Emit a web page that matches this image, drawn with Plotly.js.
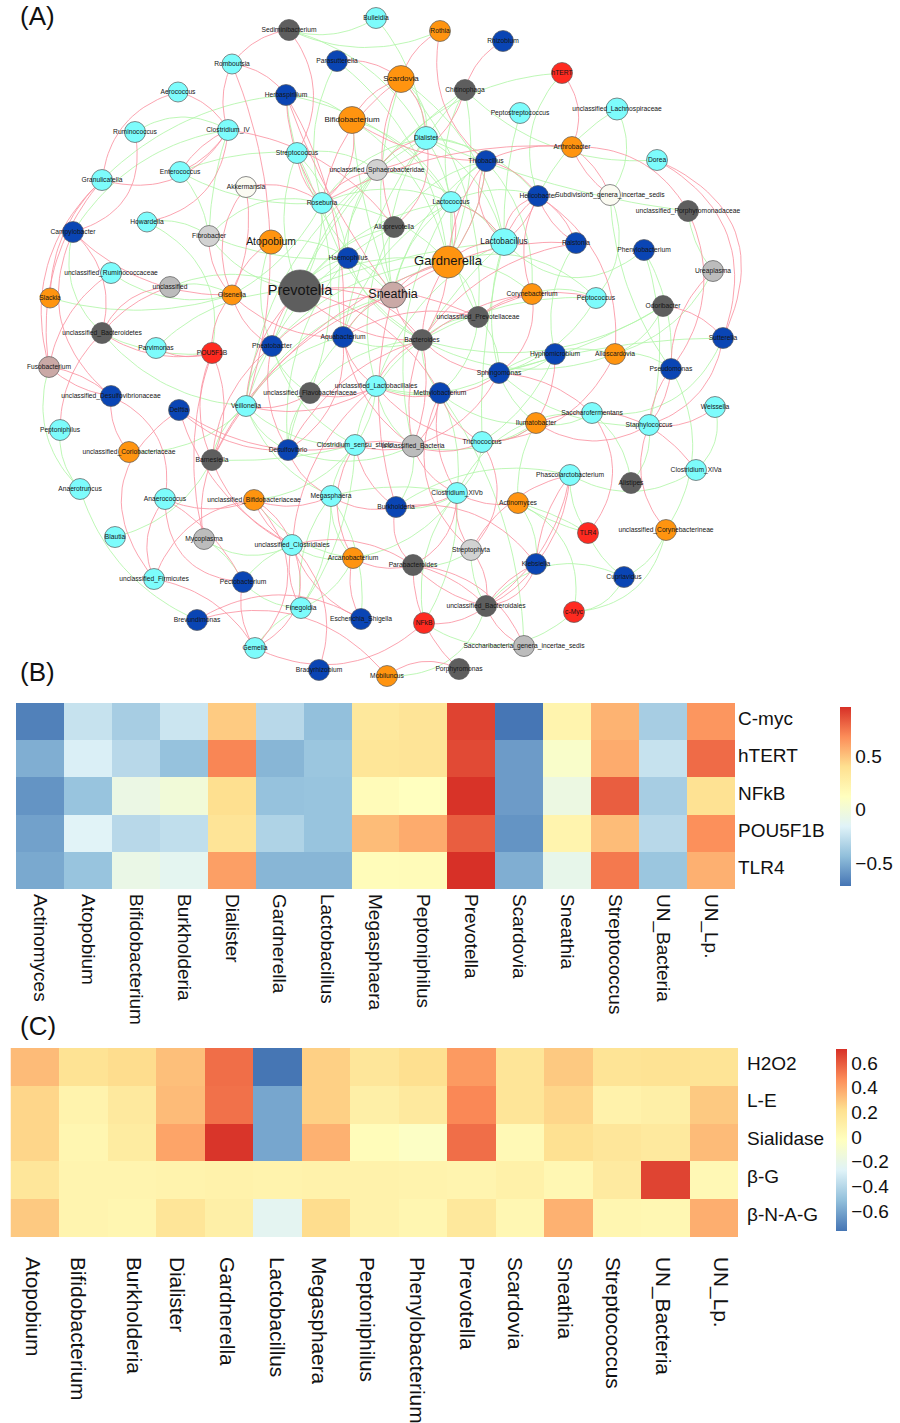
<!DOCTYPE html>
<html><head><meta charset="utf-8">
<script src="https://cdn.plot.ly/plotly-3.0.1.min.js"></script>
<style>html,body{margin:0;padding:0;background:#fff}#g{width:900px;height:1423px}</style>
</head><body><div id="g"></div>
<script>
// ---------- Panel A: network ----------
const nodeNames=["Sediminibacterium","Bulleidia","Parasutterella","Romboutsia","Aerococcus","Herbaspirillum","Ruminococcus","Clostridium_IV","Bifidobacterium","Streptococcus","Enterococcus","Granulicatella","unclassified_Sphaerobacteridae","Akkermansia","Roseburia","Howardella","Campylobacter","Fibrobacter","Atopobium","Alloprevotella","Haemophilus","unclassified_Ruminococcaceae","unclassified","Slackia","Olsenella","Prevotella","Sneathia","unclassified_Bacteroidetes","Parvimonas","POU5F1B","Pheatobacter","Aquabacterium",
"Rothia","Rhizobium","hTERT","Scardovia","Chitinophaga","Peptostreptococcus","unclassified_Lachnospiraceae","Dialister","Arthrobacter","Dorea","Thiobacillus","Helicobacter","Subdivision5_genera_incertae_sedis","unclassified_Porphyromonadaceae","Lactococcus","Lactobacillus","Ralstonia","Phenylobacterium","Gardnerella","Ureaplasma","Corynebacterium","Peptococcus","Odoribacter","unclassified_Prevotellaceae","Bacteroides","Sutterella",
"Hyphomicrobium","Alloscardovia","Sphingomonas","Pseudomonas","Methylobacterium","unclassified_Lactobacillales","Saccharofermentans","Weissella","Staphylococcus","Ilumatobacter","Trichococcus","unclassified_Bacteria","Clostridium_XlVa","Alistipes","Phascolarctobacterium","Clostridium_XlVb","Actinomyces","Burkholderia","unclassified_Corynebacterineae","TLR4","Streptophyta","Parabacteroides","Klebsiella","Cupriavidus","unclassified_Bacteroidales","c-Myc","NFkB","Saccharibacteria_genera_incertae_sedis","Porphyromonas","Mobiluncus",
"Fusobacterium","unclassified_Desulfovibrionaceae","Delftia","Veillonella","unclassified_Flavobacteriaceae","Peptoniphilus","unclassified_Coriobacteriaceae","Barnesiella","Desulfovibrio","Clostridium_sensu_stricto","Anaerotruncus","Anaerococcus","unclassified_Bifidobacteriaceae","Megasphaera","Blautia","Mycoplasma","unclassified_Clostridiales","Arcanobacterium","unclassified_Firmicutes","Pectobacterium","Finegoldia","Escherichia_Shigella","Brevundimonas","Gemella","Bradyrhizobium"];
const nodeX=[289,376,337,232,178,286,135,228,352,297,180,102,377,246,322,147,73,209,271,394,348,111,170,50,232,300,393,102,156,212,272,343,
440,503,562,401,465,520,617,426,572,657,486,538,610,688,451,504,576,644,448,713,532,596,663,478,422,723,
555,615,499,671,440,376,592,715,649,536,482,413,696,631,570,457,518,396,666,588,471,413,536,624,486,574,424,524,459,387,
49,111,179,246,310,60,129,212,288,355,80,165,254,331,115,204,292,353,154,243,301,361,197,255,319];
const nodeY=[30,18,61,64,92,95,132,130,120,153,172,180,170,187,203,222,232,236,242,227,258,273,287,298,295,291,295,333,348,353,346,337,
31,41,73,79,90,113,109,138,147,160,161,196,195,211,202,242,243,250,262,271,294,298,306,317,340,338,
354,354,373,369,393,386,413,407,425,423,442,446,470,483,475,493,503,507,530,533,550,565,564,577,606,612,623,646,669,676,
367,396,410,406,393,430,452,460,450,445,489,499,500,496,537,539,545,558,579,582,608,619,620,648,670];
const nodeRadius=[10.5,10.5,10.5,10,10,10.5,10.5,10.5,13.5,10.5,10.5,10.5,10.5,10.5,10.5,10,10.5,10.5,12,10.5,10.5,10.5,10.5,10,10,21,13,10.5,10.5,10.5,10.5,10.5,
10.5,10.5,10.5,13.5,10.5,10.5,11,11.5,10.5,10.5,10.5,10.5,10.5,10.5,10.5,13.5,10.5,10.5,16,10.5,10.5,10.5,10.5,10.5,10.5,10.5,
10.5,10.5,10.5,10.5,10.5,10.5,10.5,10.5,10.5,10.5,10.5,11,10.5,10.5,10.5,10.5,10.5,10.5,10.5,10.5,10.5,10.5,10.5,10.5,10.5,10.5,10.5,10.5,10.5,10.5,
10.5,10.5,10.5,10.5,10.5,10.5,10.5,10.5,10.5,10.5,10.5,10.5,10.5,10.5,10.5,10.5,10.5,10.5,10.5,10.5,10.5,10.5,10.5,10.5,10.5];
// D dark grey, B blue, C cyan, O orange, R red, G grey, L light grey, W white, S rose
const groupOf={Sediminibacterium:'D',Bulleidia:'C',Parasutterella:'B',Romboutsia:'C',Aerococcus:'C',Herbaspirillum:'B',Ruminococcus:'C',Clostridium_IV:'C',Bifidobacterium:'O',Streptococcus:'C',Enterococcus:'C',Granulicatella:'C',unclassified_Sphaerobacteridae:'L',Akkermansia:'W',Roseburia:'C',Howardella:'C',Campylobacter:'B',Fibrobacter:'L',Atopobium:'O',Alloprevotella:'D',Haemophilus:'B',unclassified_Ruminococcaceae:'C',unclassified:'G',Slackia:'O',Olsenella:'O',Prevotella:'D',Sneathia:'S',unclassified_Bacteroidetes:'D',Parvimonas:'C',POU5F1B:'R',Pheatobacter:'B',Aquabacterium:'B',Rothia:'O',Rhizobium:'B',hTERT:'R',Scardovia:'O',Chitinophaga:'D',Peptostreptococcus:'C',unclassified_Lachnospiraceae:'C',Dialister:'C',Arthrobacter:'O',Dorea:'C',Thiobacillus:'B',Helicobacter:'B',Subdivision5_genera_incertae_sedis:'W',unclassified_Porphyromonadaceae:'D',Lactococcus:'C',Lactobacillus:'C',Ralstonia:'B',Phenylobacterium:'B',Gardnerella:'O',Ureaplasma:'G',Corynebacterium:'O',Peptococcus:'C',Odoribacter:'D',unclassified_Prevotellaceae:'D',Bacteroides:'D',Sutterella:'B',Hyphomicrobium:'B',Alloscardovia:'O',Sphingomonas:'B',Pseudomonas:'B',Methylobacterium:'B',unclassified_Lactobacillales:'C',Saccharofermentans:'C',Weissella:'C',Staphylococcus:'C',Ilumatobacter:'O',Trichococcus:'C',unclassified_Bacteria:'G',Clostridium_XlVa:'C',Alistipes:'D',Phascolarctobacterium:'C',Clostridium_XlVb:'C',Actinomyces:'O',Burkholderia:'B',unclassified_Corynebacterineae:'O',TLR4:'R',Streptophyta:'L',Parabacteroides:'D',Klebsiella:'B',Cupriavidus:'B',unclassified_Bacteroidales:'D','c-Myc':'R',NFkB:'R',Saccharibacteria_genera_incertae_sedis:'G',Porphyromonas:'D',Mobiluncus:'O',Fusobacterium:'S',unclassified_Desulfovibrionaceae:'B',Delftia:'B',Veillonella:'C',unclassified_Flavobacteriaceae:'D',Peptoniphilus:'C',unclassified_Coriobacteriaceae:'O',Barnesiella:'D',Desulfovibrio:'B',Clostridium_sensu_stricto:'C',Anaerotruncus:'C',Anaerococcus:'C',unclassified_Bifidobacteriaceae:'O',Megasphaera:'C',Blautia:'C',Mycoplasma:'G',unclassified_Clostridiales:'C',Arcanobacterium:'O',unclassified_Firmicutes:'C',Pectobacterium:'B',Finegoldia:'C',Escherichia_Shigella:'B',Brevundimonas:'B',Gemella:'C',Bradyrhizobium:'B'};
const groupColors={D:'#5e5e5e',B:'#0a45b4',C:'#7dfcfc',O:'#ff9410',R:'#ff2a20',G:'#bcbcbc',L:'#d2d2d2',W:'#fbfbf2',S:'#caa9a6'};
const bigLabels={Prevotella:14.5,Gardnerella:13,Sneathia:12.5,Lactobacillus:8.2,Atopobium:10.4,Bifidobacterium:8,Scardovia:8};

// "a>b" or "a>b>bend"; positive bend bows away from the network's centre
const redEdges=["Sediminibacterium>Romboutsia","Sediminibacterium>Streptococcus>-.22","Romboutsia>Herbaspirillum","Romboutsia>Clostridium_IV","Romboutsia>Veillonella>-.12","Aerococcus>Granulicatella>.22","Aerococcus>Clostridium_IV","Ruminococcus>Campylobacter>-.3","Clostridium_IV>Enterococcus>.1","Clostridium_IV>Enterococcus>-.1","Granulicatella>Clostridium_IV>-.25","Clostridium_IV>Howardella>-.25","Clostridium_IV>Alloprevotella","Parasutterella>Scardovia","Herbaspirillum>Roseburia>.1","Herbaspirillum>Sneathia>.05","Herbaspirillum>Aquabacterium>-.1","Bifidobacterium>Roseburia>-.2","Bifidobacterium>Scardovia","Bifidobacterium>Thiobacillus>-.1","Streptococcus>Roseburia","unclassified_Sphaerobacteridae>Roseburia","Akkermansia>Roseburia>.15","Akkermansia>Olsenella>.2","Akkermansia>Olsenella>-.1","Fibrobacter>Olsenella","Campylobacter>Olsenella","Olsenella>Atopobium","Olsenella>Aquabacterium","Olsenella>Pheatobacter","Olsenella>POU5F1B","Granulicatella>Slackia","Granulicatella>Fusobacterium>.15","Granulicatella>Fusobacterium>.2","Campylobacter>unclassified_Desulfovibrionaceae>.25","unclassified>unclassified_Bacteroidetes>.1","unclassified>unclassified_Bacteroidetes>.2","unclassified_Ruminococcaceae>Fusobacterium","Campylobacter>unclassified_Bacteroidetes>-.2","unclassified_Bacteroidetes>Peptoniphilus","Fusobacterium>unclassified_Desulfovibrionaceae>.1","Fusobacterium>unclassified_Desulfovibrionaceae>-.1","unclassified_Desulfovibrionaceae>unclassified_Coriobacteriaceae","unclassified_Desulfovibrionaceae>Anaerococcus>-.25","POU5F1B>unclassified_Bacteroidetes","POU5F1B>Parvimonas","POU5F1B>Barnesiella>.15","POU5F1B>Barnesiella>-.15","POU5F1B>Mycoplasma>.1","Delftia>unclassified_Firmicutes>.35","Delftia>Desulfovibrio","Delftia>Clostridium_sensu_stricto","Delftia>unclassified_Clostridiales","Anaerococcus>unclassified_Firmicutes>.2","Anaerococcus>Pectobacterium>-.1","Anaerococcus>Pectobacterium>.3","Anaerococcus>unclassified_Bifidobacteriaceae","unclassified_Firmicutes>unclassified_Bifidobacteriaceae>-.2","unclassified_Firmicutes>Gemella>-.15","Mycoplasma>Barnesiella>.1","Barnesiella>Pheatobacter","Barnesiella>unclassified_Clostridiales","unclassified_Bifidobacteriaceae>unclassified_Clostridiales>.12","unclassified_Bifidobacteriaceae>unclassified_Clostridiales>-.12","unclassified_Bifidobacteriaceae>Gemella>-.3","unclassified_Bifidobacteriaceae>Megasphaera","unclassified_Clostridiales>Finegoldia","unclassified_Clostridiales>Gemella>-.3","unclassified_Clostridiales>Escherichia_Shigella","unclassified_Clostridiales>Bradyrhizobium>-.2","Pectobacterium>Gemella","Brevundimonas>Escherichia_Shigella>-.2","Brevundimonas>Mobiluncus>-.22","Gemella>NFkB>.22","Pheatobacter>Desulfovibrio","Pheatobacter>Sneathia","Veillonella>unclassified_Flavobacteriaceae","Veillonella>unclassified_Lactobacillales","unclassified_Flavobacteriaceae>unclassified_Lactobacillales","Clostridium_sensu_stricto>unclassified_Bacteria>.1","Clostridium_sensu_stricto>unclassified_Bacteria>-.1","Desulfovibrio>Aquabacterium>-.2","Megasphaera>Desulfovibrio","Megasphaera>Burkholderia","Arcanobacterium>Escherichia_Shigella","Arcanobacterium>Parabacteroides","Arcanobacterium>Clostridium_sensu_stricto>.2","unclassified_Clostridiales>Parabacteroides>-.15","unclassified_Clostridiales>unclassified_Lactobacillales","Gardnerella>Thiobacillus>.1","Gardnerella>Thiobacillus>-.1","Gardnerella>Lactobacillus","Gardnerella>Bacteroides>.1","Gardnerella>Bacteroides>-.1","Thiobacillus>Lactobacillus>-.25","Thiobacillus>Helicobacter","Lactobacillus>Helicobacter>.1","Lactobacillus>Helicobacter>-.1","Lactobacillus>Helicobacter>.25","Lactobacillus>Lactococcus","Helicobacter>Ralstonia>.12","Helicobacter>Ralstonia>-.12","Helicobacter>Corynebacterium>-.15","Helicobacter>Alloscardovia>.2","Rothia>Scardovia","Rothia>Thiobacillus>-.2","Rhizobium>Chitinophaga","hTERT>Arthrobacter>.2","Chitinophaga>unclassified_Sphaerobacteridae>-.2","Scardovia>Dialister","Scardovia>Roseburia","Scardovia>Alloprevotella","Dialister>unclassified_Sphaerobacteridae","Dialister>Alloprevotella>-.2","Arthrobacter>Roseburia>.1","Arthrobacter>Subdivision5_genera_incertae_sedis>.1","Arthrobacter>Subdivision5_genera_incertae_sedis>-.1","Arthrobacter>unclassified_Porphyromonadaceae>.2","Thiobacillus>Arthrobacter>.1","Dorea>Sutterella>.28","Dorea>Sutterella>.34","unclassified_Porphyromonadaceae>Pseudomonas>.2","Ureaplasma>Pseudomonas>-.15","Odoribacter>Sutterella","Ralstonia>Sneathia>.12","Ralstonia>Bacteroides","Peptococcus>unclassified_Prevotellaceae>.15","Corynebacterium>unclassified_Prevotellaceae>.1","Corynebacterium>Bacteroides>.1","Corynebacterium>Sphingomonas>.2","Lactococcus>Gardnerella","Sutterella>Staphylococcus>.2","Weissella>Staphylococcus>.15","Pseudomonas>Staphylococcus>.1","Pseudomonas>Staphylococcus>-.1","Hyphomicrobium>Ilumatobacter>.1","Alloscardovia>Trichococcus>.2","Staphylococcus>unclassified_Corynebacterineae>-.2","Staphylococcus>Ilumatobacter>.2","Ilumatobacter>Clostridium_XlVa>-.25","Ilumatobacter>Trichococcus","Saccharofermentans>TLR4>.25","Saccharofermentans>Sphingomonas>-.12","Phascolarctobacterium>Streptophyta>-.15","Phascolarctobacterium>Klebsiella>.1","Phascolarctobacterium>Klebsiella>-.1","Klebsiella>unclassified_Bacteroidales>.1","Klebsiella>unclassified_Bacteroidales>-.1","Klebsiella>unclassified_Bacteroidales>.22","Phascolarctobacterium>unclassified_Bacteroidales","Methylobacterium>Streptophyta>.25","Trichococcus>Streptophyta>.25","Methylobacterium>Trichococcus","Methylobacterium>Clostridium_XlVb","Clostridium_XlVb>Actinomyces>.12","Clostridium_XlVb>Streptophyta","Clostridium_XlVb>Parabacteroides>.2","Clostridium_XlVb>Burkholderia>.1","Burkholderia>Parabacteroides>.2","Burkholderia>Klebsiella>-.2","Parabacteroides>unclassified_Bacteroidales>.1","Parabacteroides>unclassified_Bacteroidales>-.1","Parabacteroides>Porphyromonas>.15","Parabacteroides>Saccharibacteria_genera_incertae_sedis>-.2","unclassified_Bacteroidales>Saccharibacteria_genera_incertae_sedis","unclassified_Bacteroidales>NFkB","unclassified_Bacteroidales>Streptophyta>-.15","Mobiluncus>Porphyromonas>-.2","Sphingomonas>Methylobacterium","Sphingomonas>Bacteroides","Methylobacterium>unclassified_Bacteria","Methylobacterium>Prevotella>-.15","unclassified_Bacteria>Trichococcus","unclassified_Bacteria>Clostridium_XlVb>.15","unclassified_Bacteria>Bacteroides>.1","unclassified_Bacteria>Bacteroides>-.1","unclassified_Bacteria>Aquabacterium","unclassified_Bacteria>Sphingomonas","Bacteroides>Sneathia","Bacteroides>unclassified_Lactobacillales","Bacteroides>Prevotella>.15","Sneathia>Barnesiella","Sneathia>Gardnerella","Sneathia>Aquabacterium","Aquabacterium>unclassified_Lactobacillales","Aquabacterium>unclassified_Prevotellaceae","Prevotella>Pheatobacter","Prevotella>Bacteroides>-.2","Prevotella>unclassified_Prevotellaceae>.1","Veillonella>Prevotella","unclassified_Lactobacillales>Methylobacterium","unclassified_Lactobacillales>Trichococcus","Burkholderia>Clostridium_sensu_stricto","Burkholderia>Sneathia>.1","Desulfovibrio>Bacteroides","Barnesiella>Gardnerella"];
const greenEdges=["Sediminibacterium>Bulleidia>-.15","Sediminibacterium>Rothia>-.15","Sediminibacterium>Dialister","Bulleidia>Dialister>.1","Parasutterella>Roseburia","Parasutterella>Gardnerella","Herbaspirillum>Granulicatella>.12","Clostridium_IV>Ruminococcus>.2","Clostridium_IV>Fibrobacter>.05","Enterococcus>Fibrobacter>-.1","Enterococcus>Streptococcus>.08","Enterococcus>Roseburia>-.1","Streptococcus>unclassified_Sphaerobacteridae","Streptococcus>Haemophilus>-.1","Streptococcus>Prevotella","Streptococcus>unclassified_Flavobacteriaceae>-.15","Campylobacter>Clostridium_IV>.15","Herbaspirillum>Bifidobacterium","Herbaspirillum>Sneathia","Herbaspirillum>Lactococcus","Howardella>Fibrobacter","Howardella>POU5F1B>-.25","Fibrobacter>Haemophilus>-.08","Fibrobacter>Prevotella","Fibrobacter>Roseburia>.2","Atopobium>Pheatobacter","Atopobium>Haemophilus","Campylobacter>unclassified_Bacteroidetes>.2","Slackia>Olsenella>-.1","unclassified_Ruminococcaceae>Olsenella>-.15","unclassified>Prevotella>.15","unclassified>Olsenella","unclassified_Bacteroidetes>POU5F1B>.1","unclassified_Bacteroidetes>Veillonella","Parvimonas>Prevotella","Fusobacterium>Anaerotruncus>.2","Peptoniphilus>Anaerotruncus","Anaerotruncus>Brevundimonas>.15","Blautia>Barnesiella>-.15","unclassified_Coriobacteriaceae>Veillonella>-.15","Mycoplasma>Pectobacterium>-.1","Mycoplasma>unclassified_Clostridiales>.2","Pectobacterium>Finegoldia","Gemella>Finegoldia>-.1","Finegoldia>Megasphaera","Escherichia_Shigella>Megasphaera>-.12","Megasphaera>Finegoldia>-.1","Arcanobacterium>Finegoldia","Pectobacterium>unclassified_Clostridiales>-.1","Clostridium_sensu_stricto>Barnesiella>.05","Clostridium_sensu_stricto>Megasphaera>.1","Clostridium_sensu_stricto>Veillonella","Clostridium_sensu_stricto>Pheatobacter","Clostridium_sensu_stricto>unclassified_Bifidobacteriaceae","Clostridium_sensu_stricto>Finegoldia>-.1","Clostridium_sensu_stricto>unclassified_Lactobacillales>-.1","hTERT>unclassified_Sphaerobacteridae>.15","hTERT>Helicobacter>-.2","Peptostreptococcus>Lactobacillus>-.05","unclassified_Lachnospiraceae>Helicobacter>.1","unclassified_Lachnospiraceae>Subdivision5_genera_incertae_sedis>.2","Dorea>Chitinophaga>-.15","Subdivision5_genera_incertae_sedis>Peptococcus>.2","Subdivision5_genera_incertae_sedis>Pseudomonas>-.1","Phenylobacterium>Lactobacillus>-.3","Phenylobacterium>Pseudomonas>.1","Phenylobacterium>Staphylococcus>.1","unclassified_Porphyromonadaceae>Ureaplasma>-.1","Odoribacter>Bacteroides>-.15","Ralstonia>Hyphomicrobium>-.15","Pseudomonas>unclassified_Corynebacterineae>.2","Sutterella>Saccharofermentans>.25","Sutterella>Sphingomonas>-.05","Staphylococcus>Alistipes>.15","Staphylococcus>Sphingomonas","Saccharofermentans>Ilumatobacter","Weissella>Clostridium_XlVa>.2","Clostridium_XlVa>Phascolarctobacterium>.2","Phascolarctobacterium>TLR4>-.12","TLR4>Cupriavidus>.1","TLR4>Actinomyces>.05","TLR4>Actinomyces>-.05","unclassified_Corynebacterineae>Cupriavidus>.15","unclassified_Corynebacterineae>c-Myc>.25","Cupriavidus>c-Myc>.2","Cupriavidus>unclassified_Bacteroidales>-.25","Actinomyces>c-Myc>-.25","Actinomyces>Klebsiella","Actinomyces>Ilumatobacter>-.1","c-Myc>NFkB>.25","Saccharofermentans>Clostridium_XlVb>-.22","Saccharofermentans>Alistipes","Mobiluncus>unclassified_Bacteroidales>.25","NFkB>Clostridium_XlVb>-.15","Streptophyta>unclassified_Bacteroidales>.1","Streptophyta>Parabacteroides","Saccharibacteria_genera_incertae_sedis>Methylobacterium>-.1","Sphingomonas>Alloscardovia>-.15","Sphingomonas>Ilumatobacter>-.1","Sphingomonas>Hyphomicrobium","Hyphomicrobium>Trichococcus>.1","Alloscardovia>Bacteroides>.15","Peptococcus>Bacteroides>.1","Peptococcus>Gardnerella>.2","Prevotella>Gardnerella","Prevotella>Dialister","Prevotella>Lactobacillus>.05","Prevotella>Haemophilus","Prevotella>Lactococcus","Sneathia>Dialister","Sneathia>Lactococcus","Sneathia>Thiobacillus","Sneathia>Scardovia>.1","Bifidobacterium>Gardnerella","Bifidobacterium>Lactococcus","Bifidobacterium>Sneathia>.05","Scardovia>Lactobacillus","Scardovia>Dialister>.2","Scardovia>unclassified_Prevotellaceae","Dialister>Gardnerella","Dialister>Lactobacillus","Dialister>Thiobacillus","Dialister>Helicobacter","Dialister>Roseburia","Dialister>unclassified_Porphyromonadaceae>-.05","Chitinophaga>Lactococcus","Chitinophaga>Pheatobacter>.1","Chitinophaga>Gardnerella>.1","Chitinophaga>Aquabacterium>.1","Thiobacillus>Lactococcus","Thiobacillus>Gardnerella>-.1","Thiobacillus>Alloprevotella","Thiobacillus>Corynebacterium","Lactococcus>Aquabacterium","Lactococcus>Helicobacter","Lactococcus>Lactobacillus","Lactococcus>unclassified_Prevotellaceae>-.1","Lactococcus>Roseburia","Lactococcus>unclassified_Bacteria","Lactobacillus>Bacteroides>.05","Lactobacillus>Sphingomonas>-.1","Lactobacillus>Trichococcus>-.05","Alloprevotella>Prevotella","Alloprevotella>Veillonella","Alloprevotella>unclassified_Lactobacillales","Haemophilus>Sneathia","Haemophilus>unclassified_Sphaerobacteridae","Haemophilus>Bacteroides","Haemophilus>Desulfovibrio","Roseburia>Olsenella>-.1","Roseburia>Gardnerella","Roseburia>Bacteroides","Roseburia>Prevotella>-.1","unclassified_Sphaerobacteridae>Aquabacterium","unclassified_Sphaerobacteridae>Veillonella","unclassified_Sphaerobacteridae>Lactobacillus","Aquabacterium>Veillonella","Aquabacterium>Desulfovibrio>.1","Aquabacterium>Bacteroides","Aquabacterium>Gardnerella","Pheatobacter>Veillonella","Pheatobacter>unclassified_Flavobacteriaceae","Pheatobacter>Gardnerella","Veillonella>Desulfovibrio","Veillonella>Megasphaera","Veillonella>Barnesiella","Veillonella>Sneathia","unclassified_Flavobacteriaceae>Desulfovibrio","unclassified_Flavobacteriaceae>Bacteroides","Desulfovibrio>unclassified_Bacteria","unclassified_Lactobacillales>Methylobacterium>.1","unclassified_Lactobacillales>Sphingomonas","unclassified_Lactobacillales>unclassified_Bacteria","unclassified_Lactobacillales>Lactobacillus","Bacteroides>Methylobacterium","Bacteroides>Clostridium_sensu_stricto","Bacteroides>unclassified_Prevotellaceae","Methylobacterium>Clostridium_XlVb>-.1","Methylobacterium>Ilumatobacter","Trichococcus>Clostridium_XlVb","Trichococcus>Ilumatobacter","unclassified_Bacteria>Ilumatobacter","unclassified_Bacteria>Burkholderia","Burkholderia>Phascolarctobacterium>-.15","Burkholderia>Clostridium_XlVb","Clostridium_XlVb>NFkB>.1","Megasphaera>Arcanobacterium","Megasphaera>Clostridium_XlVb>-.08","unclassified_Clostridiales>Arcanobacterium","unclassified_Bifidobacteriaceae>Arcanobacterium","Arcanobacterium>Clostridium_XlVb","Gardnerella>Corynebacterium","Gardnerella>unclassified_Prevotellaceae","Corynebacterium>Peptococcus","unclassified_Prevotellaceae>Methylobacterium","unclassified_Prevotellaceae>Sphingomonas","Pseudomonas>Alloscardovia","Alloscardovia>Odoribacter","Peptococcus>Sphingomonas","Sphingomonas>Odoribacter>.05","Ureaplasma>Alloscardovia"];

// ---------- Panel B: heatmap ----------
const genesB=["C-myc","hTERT","NFkB","POU5F1B","TLR4"];
const taxaB=["Actinomyces","Atopobium","Bifidobacterium","Burkholderia","Dialister","Gardnerella","Lactobacillus","Megasphaera","Peptoniphilus","Prevotella","Scardovia","Sneathia","Streptococcus","UN_Bacteria","UN_Lp."];
const cMyc=[-.67,-.25,-.36,-.23,.47,-.30,-.43,.33,.36,.90,-.71,.22,.55,-.36,.65];
const hTERTv=[-.50,-.18,-.30,-.42,.70,-.47,-.40,.35,.36,.88,-.57,.07,.58,-.25,.78];
const nfkb=[-.60,-.41,-.06,.00,.40,-.42,-.41,.16,.12,.95,-.57,-.05,.82,-.36,.38];
const pou=[-.55,-.15,-.30,-.27,.36,-.33,-.41,.52,.58,.82,-.60,.22,.52,-.30,.67];
const tlr4=[-.52,-.41,-.07,-.12,.62,-.47,-.47,.15,.16,.96,-.50,-.09,.74,-.40,.56];

// ---------- Panel C: heatmap ----------
const enzymesC=["H2O2","L-E","Sialidase","β-G","β-N-A-G"];
const taxaC=["Atopobium","Bifidobacterium","Burkholderia","Dialister","Gardnerella","Lactobacillus","Megasphaera","Peptoniphilus","Phenylobacterium","Prevotella","Scardovia","Sneathia","Streptococcus","UN_Bacteria","UN_Lp."];
const taxaCTicks=[-.04,.89,2.04,2.92,3.96,4.98,5.85,6.84,7.88,8.9,9.9,10.93,11.92,12.94,14.15];
const h2o2=[.33,.20,.23,.32,.55,-.76,.27,.17,.22,.43,.18,.29,.19,.20,.19];
const le=[.25,.07,.15,.33,.54,-.60,.27,.10,.15,.48,.18,.25,.08,.10,.29];
const sial=[.25,.05,.13,.40,.70,-.60,.36,.00,-.05,.55,.02,.21,.17,.15,.33];
const bG=[.17,.06,.06,.07,.08,.07,.08,.08,.07,.06,.09,.04,.14,.66,.03];
const bNAG=[.29,.06,.05,.18,.10,-.24,.23,.08,.05,.16,.04,.36,.05,.04,.37];

const rdYlBu=[[0,'#4575B4'],[1/6,'#91BFDB'],[2/6,'#E0F3F8'],[.5,'#FFFFBF'],[4/6,'#FEE090'],[5/6,'#FC8D59'],[1,'#D73027']];
const FONT='"Liberation Sans", Arial, sans-serif';
const W=900,H=1423,CX=440,CY=340;

function idx(k){const i=nodeNames.indexOf(k);if(i<0)throw new Error('node '+k);return i;}
function edgeTrace(list,color){
  const xs=[],ys=[];
  list.forEach(e=>{
    const p=e.split('>'),a=idx(p[0]),b=idx(p[1]),bend=p[2]===undefined?.14:parseFloat(p[2]);
    const x0=nodeX[a],y0=nodeY[a],x1=nodeX[b],y1=nodeY[b];
    const mx=(x0+x1)/2,my=(y0+y1)/2;let nx=-(y1-y0),ny=x1-x0;
    if(nx*(mx-CX)+ny*(my-CY)<0){nx=-nx;ny=-ny;}
    const cx=mx+nx*bend*1.5,cy=my+ny*bend*1.5; // control point
    for(let t=0;t<=1.0001;t+=1/24){const u=1-t;xs.push(u*u*x0+2*u*t*cx+t*t*x1);ys.push(u*u*y0+2*u*t*cy+t*t*y1);}
    xs.push(null);ys.push(null);
  });
  return {type:'scatter',mode:'lines',x:xs,y:ys,xaxis:'x',yaxis:'y',hoverinfo:'skip',showlegend:false,
    line:{color:color,width:0.85}};
}
const nodeTrace={type:'scatter',mode:'markers+text',x:nodeX,y:nodeY,text:nodeNames,textposition:'middle center',
  xaxis:'x',yaxis:'y',showlegend:false,hoverinfo:'text',cliponaxis:false,
  marker:{size:nodeRadius.map(r=>2*r),opacity:1,sizemode:'diameter',color:nodeNames.map(n=>groupColors[groupOf[n]]),line:{color:'#5a5a5a',width:0.7}},
  textfont:{family:FONT,color:'#151515',size:nodeNames.map(n=>bigLabels[n]||6.7)}};

const heatB={type:'heatmap',z:[cMyc,hTERTv,nfkb,pou,tlr4],x:taxaB,y:genesB,xaxis:'x2',yaxis:'y2',zmin:-.715,zmax:.958,colorscale:rdYlBu,xgap:0,ygap:0,
  colorbar:{x:840/W,xanchor:'left',y:1-796.5/H,yanchor:'middle',len:179,lenmode:'pixels',thickness:11,thicknessmode:'pixels',outlinewidth:0,ticks:'',ticklen:0,xpad:0,ypad:0,
    tickvals:[-.5,0,.5],tickfont:{family:FONT,size:19,color:'#111'}}};
const heatC={type:'heatmap',z:[h2o2,le,sial,bG,bNAG],x:taxaC.map((_,i)=>i),y:enzymesC,xaxis:'x3',yaxis:'y3',zmin:-.762,zmax:.713,colorscale:rdYlBu,
  colorbar:{x:836/W,xanchor:'left',y:1-1140/H,yanchor:'middle',len:182,lenmode:'pixels',thickness:11,thicknessmode:'pixels',outlinewidth:0,ticks:'',ticklen:0,xpad:0,ypad:0,
    tickvals:[-.6,-.4,-.2,0,.2,.4,.6],tickfont:{family:FONT,size:19,color:'#111'}}};

const tf={family:FONT,size:19,color:'#111'};
const tfC={family:FONT,size:20.8,color:'#111'};
const layout={width:W,height:H,margin:{l:0,r:0,t:0,b:0},paper_bgcolor:'#fff',plot_bgcolor:'rgba(0,0,0,0)',showlegend:false,
  font:{family:FONT},
  xaxis:{domain:[0,1],range:[0,W],visible:false,fixedrange:true},
  yaxis:{domain:[0,1],range:[H,0],visible:false,fixedrange:true},
  xaxis2:{anchor:'y2',domain:[16/W,735/W],tickangle:90,ticks:'',ticklen:0,tickfont:tf,showgrid:false,zeroline:false,showline:false,automargin:false,type:'category',ticklabelstandoff:4},
  yaxis2:{anchor:'x2',domain:[1-889/H,1-703/H],side:'right',autorange:'reversed',tickfont:tf,ticks:'',showgrid:false,zeroline:false,type:'category',automargin:false,ticklabelstandoff:2,ticklabelshift:3},
  xaxis3:{anchor:'y3',domain:[10.5/W,738/W],range:[-.5,14.5],tickmode:'array',tickvals:taxaCTicks,ticktext:taxaC,tickangle:90,ticks:'',tickfont:tfC,showgrid:false,zeroline:false,automargin:false,ticklabelstandoff:19},
  yaxis3:{anchor:'x3',domain:[1-1237/H,1-1048/H],side:'right',autorange:'reversed',tickfont:tf,ticks:'',showgrid:false,zeroline:false,type:'category',automargin:false,ticklabelstandoff:8,ticklabelshift:4},
  annotations:[["(A)",18,16],["(B)",18,672],["(C)",18,1026]].map(a=>({text:a[0],xref:'paper',yref:'paper',x:a[1]/W,y:1-a[2]/H,xanchor:'left',yanchor:'middle',showarrow:false,font:{family:FONT,size:26,color:'#111'}}))
};
Plotly.newPlot('g',[edgeTrace(greenEdges,'#b2f6a9'),edgeTrace(redEdges,'#fa94a2'),nodeTrace,heatB,heatC],layout,{displayModeBar:false,staticPlot:true});
</script></body></html>
